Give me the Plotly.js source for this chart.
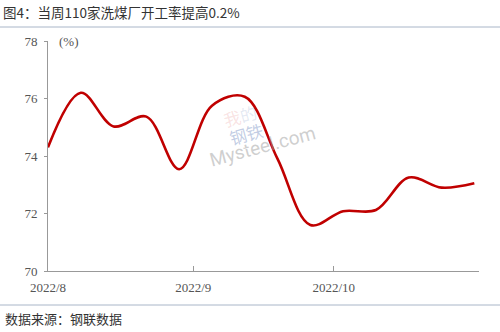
<!DOCTYPE html>
<html>
<head>
<meta charset="utf-8">
<script src="https://cdn.plot.ly/plotly-3.0.1.min.js"></script>
<style>
html,body{margin:0;padding:0;background:#fff;}
#chart{width:500px;height:332px;}
</style>
</head>
<body>
<div id="chart"></div>
<script>
// Data (weekly)
const dates = ['2022-08-01','2022-08-08','2022-08-15','2022-08-22','2022-08-29','2022-09-05','2022-09-12','2022-09-19','2022-09-26','2022-10-03','2022-10-10','2022-10-17','2022-10-24','2022-10-31'];
const rate = [74.3, 76.2, 75.03, 75.37, 73.54, 75.75, 76.06, 73.9, 71.6, 72.08, 72.12, 73.25, 72.9, 73.05];
const tickDates = ['2022-08-01','2022-09-01','2022-10-01','2022-11-01'];
const tickLabels = ['2022/8','2022/9','2022/10',''];
const yTicks = [70, 72, 74, 76, 78];

const W = 500, H = 332, L = 48, R = 21, T = 41, B = 61;
const pw = W - L - R, ph = H - T - B;
const px = v => (v - L) / pw;
const py = v => (H - B - v) / ph;

const trace = {
  x: dates, y: rate, type: 'scatter', mode: 'lines',
  line: {color: '#C00000', width: 2.6, shape: 'spline', smoothing: 1},
  hoverinfo: 'skip'
};

const layout = {
  width: W, height: H,
  margin: {l: L, r: R, t: T, b: B},
  paper_bgcolor: '#fff', plot_bgcolor: '#fff',
  showlegend: false,
  title: {
    text: '图4：当周110家洗煤厂开工率提高0.2%',
    x: 3 / W, xref: 'container', xanchor: 'left',
    y: 1 - 13 / H, yref: 'container', yanchor: 'middle',
    font: {family: '"Noto Sans CJK SC", sans-serif', size: 13.5, color: '#333'}
  },
  xaxis: {
    type: 'date', range: ['2022-08-01','2022-11-01'],
    tickmode: 'array', tickvals: tickDates, ticktext: tickLabels,
    ticks: 'inside', ticklen: 5, tickcolor: '#999', tickwidth: 1,
    showline: true, linecolor: '#999', linewidth: 1,
    showgrid: false, zeroline: false,
    tickfont: {family: '"Liberation Serif", "Times New Roman", serif', size: 13, color: '#555'},
    ticklabelstandoff: 4
  },
  yaxis: {
    range: [70, 78], tickmode: 'array', tickvals: yTicks,
    ticks: 'outside', ticklen: 3, tickcolor: '#999', tickwidth: 1,
    showline: true, linecolor: '#999', linewidth: 1,
    showgrid: false, zeroline: false,
    ticklabelstandoff: 4,
    tickfont: {family: '"Liberation Serif", "Times New Roman", serif', size: 13, color: '#555'}
  },
  shapes: [
    {type: 'line', xref: 'paper', yref: 'paper', x0: px(0), x1: px(500), y0: py(27), y1: py(27), line: {color: '#A9B6C8', width: 1}},
    {type: 'line', xref: 'paper', yref: 'paper', x0: px(0), x1: px(500), y0: py(305), y1: py(305), line: {color: '#A9B6C8', width: 1}}
  ],
  annotations: [
    {text: '(%)', xref: 'paper', yref: 'paper', x: px(57), y: py(41), xanchor: 'left', yanchor: 'middle', showarrow: false,
     font: {family: '"Liberation Serif", serif', size: 13, color: '#555'}},
    {text: '数据来源：钢联数据', xref: 'paper', yref: 'paper', x: px(3), y: py(318), xanchor: 'left', yanchor: 'middle', showarrow: false,
     font: {family: '"Noto Sans CJK SC", sans-serif', size: 13, color: '#333'}},
    {text: 'Mysteel.com', xref: 'paper', yref: 'paper', x: px(262), y: py(146), xanchor: 'center', yanchor: 'middle', showarrow: false, textangle: -15,
     font: {family: 'Roboto, sans-serif', size: 19, color: 'rgba(160,160,160,0.5)'}},
    {text: '<span style="color:rgba(220,90,90,0.4)">我</span><span style="color:rgba(120,145,195,0.45)">的</span>', xref: 'paper', yref: 'paper', x: px(240), y: py(115), xanchor: 'center', yanchor: 'middle', showarrow: false, textangle: -15,
     font: {family: '"Noto Sans CJK SC", sans-serif', size: 17, color: 'rgba(120,145,195,0.45)'}},
    {text: '钢铁', xref: 'paper', yref: 'paper', x: px(246), y: py(133), xanchor: 'center', yanchor: 'middle', showarrow: false, textangle: -15,
     font: {family: '"Noto Sans CJK SC", sans-serif', size: 17, color: 'rgba(120,145,195,0.45)'}}
  ]
};

Plotly.newPlot('chart', [trace], layout, {staticPlot: true, displayModeBar: false});
</script>
</body>
</html>
